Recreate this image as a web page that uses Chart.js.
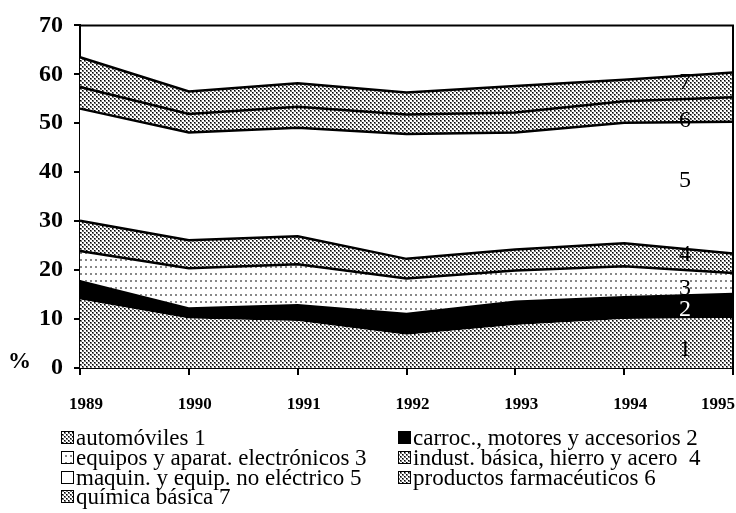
<!DOCTYPE html>
<html>
<head>
<meta charset="utf-8">
<script src="https://cdn.jsdelivr.net/npm/chart.js@4/dist/chart.umd.min.js"></script>
<style>
  html, body { margin: 0; padding: 0; background: #fff; }
</style>
</head>
<body>
<canvas id="chart" width="736" height="513"></canvas>
<script>
// years on the x axis
var years = ['1989', '1990', '1991', '1992', '1993', '1994', '1995'];

// share of each branch, in % (stacked)
var automoviles   = [14.0, 10.1, 9.6, 6.8, 8.8, 10.0, 10.2];
var carroc        = [4.0, 2.3, 3.5, 4.5, 5.0, 4.7, 5.2];
var electronicos  = [5.9, 8.0, 8.1, 7.0, 6.1, 6.1, 4.0];
var hierroAcero   = [6.2, 5.7, 5.7, 4.0, 4.3, 4.7, 4.0];
var noElectrico   = [22.9, 22.0, 22.2, 25.5, 23.9, 24.6, 26.9];
var farmaceuticos = [4.4, 3.8, 4.3, 4.0, 4.1, 4.4, 5.0];
var quimica       = [6.1, 4.6, 4.8, 4.5, 5.4, 4.4, 5.1];

var seriesNames = [
  'automóviles 1',
  'carroc., motores y accesorios 2',
  'equipos y aparat. electrónicos 3',
  'indust. básica, hierro y acero  4',
  'maquin. y equip. no eléctrico 5',
  'productos farmacéuticos 6',
  'química básica 7'
];
var seriesNumbers = ['1', '2', '3', '4', '5', '6', '7'];

var canvas = document.getElementById('chart');
var ctx = canvas.getContext('2d');

// small dot patterns like the printed hatching
function makePattern(w, h, dots) {
  var c = document.createElement('canvas');
  c.width = w; c.height = h;
  var g = c.getContext('2d');
  g.fillStyle = '#fff';
  g.fillRect(0, 0, w, h);
  dots.forEach(function(d) { g.fillStyle = d[4]; g.fillRect(d[0], d[1], d[2], d[3]); });
  return ctx.createPattern(c, 'repeat');
}
var checker = makePattern(4, 4, [
  [0, 0, 2, 2, '#777'], [0, 0, 1, 1, '#000'],
  [2, 2, 2, 2, '#777'], [2, 2, 1, 1, '#000']
]);
var sparse = makePattern(5, 7, [[0, 0, 2, 2, '#888']]);

var fills = [checker, '#000', sparse, checker, '#fff', checker, checker];
var values = [automoviles, carroc, electronicos, hierroAcero, noElectrico, farmaceuticos, quimica];

var datasets = values.map(function(v, i) {
  return {
    label: seriesNames[i],
    data: v,
    backgroundColor: fills[i],
    borderColor: '#000',
    borderWidth: i < 2 ? 0 : 2.5,
    pointRadius: 0,
    tension: 0,
    fill: i === 0 ? 'origin' : '-1'
  };
});

var serif = '"Liberation Serif", "Times New Roman", serif';

var extras = {
  id: 'extras',
  afterDraw: function(chart) {
    var c = chart.ctx, a = chart.chartArea, xs = chart.scales.x, ys = chart.scales.y;
    c.save();
    // frame on top and right
    c.strokeStyle = '#000';
    c.lineWidth = 2;
    c.beginPath();
    c.moveTo(a.left, a.top);
    c.lineTo(a.right, a.top);
    c.lineTo(a.right, a.bottom);
    c.stroke();

    c.fillStyle = '#000';
    c.textBaseline = 'middle';

    // year labels
    c.font = 'bold 17px ' + serif;
    years.forEach(function(lab, i) {
      var px = xs.getPixelForTick(i) + 6;
      c.textAlign = 'center';
      if (i === years.length - 1) { c.textAlign = 'right'; px = chart.width - 1; }
      c.fillText(lab, px, a.bottom + 37);
    });

    // % sign next to the zero
    c.font = 'bold 23px ' + serif;
    c.textAlign = 'left';
    c.fillText('%', 8, ys.getPixelForValue(0) - 6);

    // numbers on the bands
    var numberAt = [3.8, 12.0, 16.2, 23.1, 38.3, 50.6, 58.2];
    c.font = '24px ' + serif;
    c.textAlign = 'center';
    seriesNumbers.forEach(function(n, i) {
      c.fillStyle = i === 1 ? '#fff' : '#000';
      c.fillText(n, 685, ys.getPixelForValue(numberAt[i]));
    });

    // legend in two columns
    var colX = [61, 398], rowY = [438, 458, 478, 497];
    c.font = '23px ' + serif;
    c.textAlign = 'left';
    chart.data.datasets.forEach(function(ds, i) {
      var bx = colX[i % 2], by = rowY[Math.floor(i / 2)];
      c.fillStyle = ds.backgroundColor;
      c.fillRect(bx, by - 7, 13, 13);
      c.strokeStyle = '#000';
      c.lineWidth = 1;
      c.strokeRect(bx + 0.5, by - 6.5, 12, 12);
      c.fillStyle = '#000';
      c.fillText(ds.label, bx + 15, by + 1);
    });
    c.restore();
  }
};

new Chart(ctx, {
  type: 'line',
  data: { labels: years, datasets: datasets },
  options: {
    responsive: false,
    animation: false,
    devicePixelRatio: 1,
    layout: { padding: { left: 0, top: 22, right: 3, bottom: 95 } },
    plugins: {
      legend: { display: false },
      tooltip: { enabled: false },
      filler: { propagate: false }
    },
    scales: {
      x: {
        offset: false,
        grid: { drawOnChartArea: false, drawTicks: true, tickLength: 7, color: '#000', lineWidth: 2 },
        border: { display: true, color: '#000', width: 2 },
        ticks: { display: false },
        afterFit: function(s) { s.height = 50; s.paddingLeft = 0; s.paddingRight = 0; }
      },
      y: {
        stacked: true,
        min: 0,
        max: 70,
        grid: { drawOnChartArea: false, drawTicks: true, tickLength: 6, color: '#000', lineWidth: 2 },
        border: { display: true, color: '#000', width: 2 },
        ticks: {
          stepSize: 10,
          color: '#000',
          padding: 11,
          font: { family: serif, size: 24, weight: 'bold' }
        },
        afterFit: function(s) { s.width = 80; }
      }
    }
  },
  plugins: [extras]
});
</script>
</body>
</html>
